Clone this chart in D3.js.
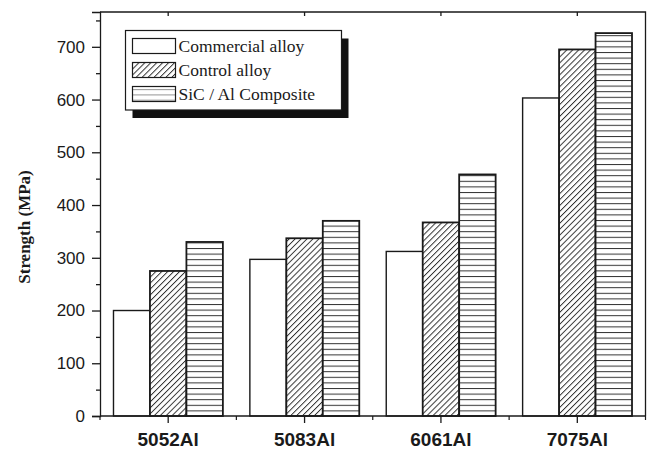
<!DOCTYPE html>
<html>
<head>
<meta charset="utf-8">
<script src="https://cdn.jsdelivr.net/npm/d3@7"></script>
<style>
  html, body { margin: 0; padding: 0; background: #fff; }
  svg { display: block; }
</style>
</head>
<body>
<svg id="chart" width="648" height="449"></svg>
<script>
// Alloy strength data (MPa)
const categories = ["5052Al", "5083Al", "6061Al", "7075Al"];
const seriesNames = ["Commercial alloy", "Control alloy", "SiC / Al Composite"];
const commercial = [200, 297, 312, 603];
const control = [275, 337, 367, 695];
const composite = [330, 370, 458, 726];
const yTicks = [0, 100, 200, 300, 400, 500, 600, 700];
const yMinorTicks = [50, 150, 250, 350, 450, 550, 650, 750];
const yTitle = "Strength (MPa)";

const seriesValues = [commercial, control, composite];
const fills = ["#fff", "url(#hatch)", "url(#hlines)"];

const svg = d3.select("#chart");
const frame = { left: 100, right: 645.5, top: 12, bottom: 416 };

const x = d3.scaleBand().domain(categories).range([frame.left, frame.right]).paddingInner(0).paddingOuter(0);
const inner = d3.scaleBand().domain(d3.range(seriesNames.length))
  .range([0, x.bandwidth()]).paddingOuter(0.37).paddingInner(0);
const y = d3.scaleLinear().domain([0, 766]).range([frame.bottom, frame.top]);

// Fill patterns
const defs = svg.append("defs");
const hatch = defs.append("pattern").attr("id", "hatch")
  .attr("patternUnits", "userSpaceOnUse").attr("width", 4.2).attr("height", 4.2)
  .attr("patternTransform", "rotate(45)");
hatch.append("rect").attr("width", 4.2).attr("height", 4.2).attr("fill", "#fff");
hatch.append("line").attr("x1", 0.5).attr("y1", 0).attr("x2", 0.5).attr("y2", 4.2)
  .attr("stroke", "#222").attr("stroke-width", 0.9);

const hl = defs.append("pattern").attr("id", "hlines")
  .attr("patternUnits", "userSpaceOnUse").attr("width", 10).attr("height", 5.6)
  .attr("y", frame.bottom);
hl.append("rect").attr("width", 10).attr("height", 5.6).attr("fill", "#fff");
hl.append("line").attr("x1", 0).attr("x2", 10).attr("y1", 0.5).attr("y2", 0.5)
  .attr("stroke", "#333").attr("stroke-width", 1);

const hlLegend = defs.append("pattern").attr("id", "hlinesLegend")
  .attr("patternUnits", "userSpaceOnUse").attr("width", 10).attr("height", 5.2)
  .attr("y", 86);
hlLegend.append("rect").attr("width", 10).attr("height", 5.2).attr("fill", "#fff");
hlLegend.append("line").attr("x1", 0).attr("x2", 10).attr("y1", 0).attr("y2", 0)
  .attr("stroke", "#222").attr("stroke-width", 1);

// Bars
const groups = svg.append("g").selectAll("g")
  .data(categories).join("g")
  .attr("transform", d => `translate(${x(d)},0)`);

groups.selectAll("rect")
  .data((d, i) => seriesValues.map((vals, s) => ({ s, v: vals[i] })))
  .join("rect")
  .attr("x", d => inner(d.s))
  .attr("width", inner.bandwidth())
  .attr("y", d => y(d.v))
  .attr("height", d => y(0) - y(d.v))
  .attr("fill", d => fills[d.s])
  .attr("stroke", "#1a1a1a")
  .attr("stroke-width", d => d.s === 0 ? 1.4 : 1.8);

// Frame (top and right)
svg.append("path")
  .attr("d", `M${frame.left},${frame.top}H${frame.right}V${frame.bottom}`)
  .attr("fill", "none").attr("stroke", "#1a1a1a").attr("stroke-width", 1.3);

// Left axis
const yAxis = svg.append("g").attr("transform", `translate(${frame.left},0)`)
  .call(d3.axisLeft(y).tickValues(yTicks).tickSize(8).tickPadding(7).tickFormat(d3.format("d")));
svg.append("g").attr("transform", `translate(${frame.left},0)`)
  .call(d3.axisLeft(y).tickValues(yMinorTicks).tickSize(4).tickFormat(""))
  .call(g => g.select(".domain").remove());
yAxis.selectAll("text").attr("font-family", "'Liberation Sans', Arial, sans-serif")
  .attr("font-size", 17).attr("fill", "#1a1a1a");

// Bottom axis
const xAxis = svg.append("g").attr("transform", `translate(0,${frame.bottom})`)
  .call(d3.axisBottom(x).tickSize(7).tickPadding(10));
xAxis.select(".domain").attr("d", `M${frame.left},0H${frame.right}`);
xAxis.selectAll("text").attr("font-family", "'Liberation Sans', Arial, sans-serif")
  .attr("font-size", 19).attr("font-weight", "bold").attr("fill", "#1a1a1a");
const boundaries = categories.map(c => x(c)).concat([frame.right]);
svg.append("g").attr("transform", `translate(0,${frame.bottom})`)
  .selectAll("line").data(boundaries).join("line")
  .attr("x1", d => d).attr("x2", d => d).attr("y1", 0).attr("y2", 4)
  .attr("stroke", "#1a1a1a").attr("stroke-width", 1.2);

// Top axis ticks pointing inward
svg.append("g").attr("transform", `translate(0,${frame.top})`)
  .call(d3.axisBottom(x).tickSize(4).tickFormat(""))
  .call(g => g.select(".domain").remove());

svg.selectAll(".tick line, .domain").attr("stroke", "#1a1a1a").attr("stroke-width", 1.3);

// Y axis title
svg.append("text")
  .attr("transform", "translate(30,227) rotate(-90)")
  .attr("text-anchor", "middle")
  .attr("font-family", "'Liberation Serif', 'Times New Roman', serif")
  .attr("font-weight", "bold").attr("font-size", 17)
  .attr("fill", "#1a1a1a")
  .text(yTitle);

// Legend
const legend = { x: 125.5, y: 30.5, w: 216, h: 79.5 };
svg.append("rect").attr("x", legend.x + 7).attr("y", legend.y + 8)
  .attr("width", legend.w).attr("height", legend.h).attr("fill", "#111");
svg.append("rect").attr("x", legend.x).attr("y", legend.y)
  .attr("width", legend.w).attr("height", legend.h)
  .attr("fill", "#fff").attr("stroke", "#1a1a1a").attr("stroke-width", 1.2);

const legendFills = ["#fff", "url(#hatch)", "url(#hlinesLegend)"];
const items = svg.append("g").selectAll("g").data(seriesNames).join("g")
  .attr("transform", (d, i) => `translate(132.5,${38.5 + i * 24})`);
items.append("rect").attr("width", 43).attr("height", 15)
  .attr("fill", (d, i) => legendFills[i])
  .attr("stroke", "#1a1a1a").attr("stroke-width", 1.2);
items.append("text").attr("x", 46).attr("y", 13)
  .attr("font-family", "'Liberation Serif', 'Times New Roman', serif")
  .attr("font-size", 17.5).attr("fill", "#1a1a1a")
  .text(d => d);
</script>
</body>
</html>
